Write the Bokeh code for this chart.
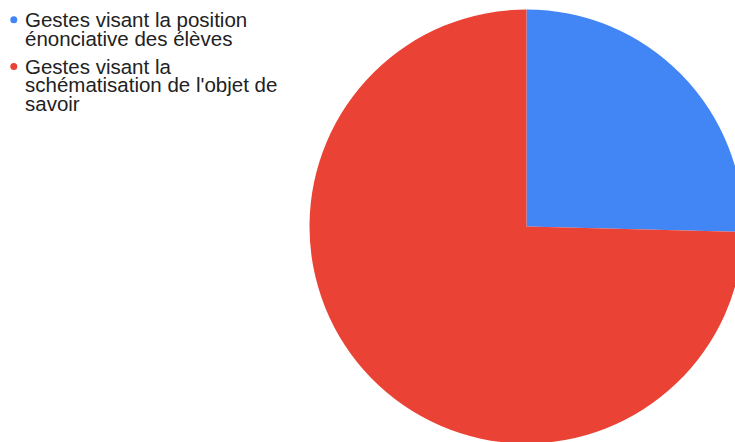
import numpy as np
from bokeh.plotting import figure
from bokeh.models import Range1d, ColumnDataSource
from bokeh.core.properties import value
from bokeh.embed import file_html
from bokeh.resources import INLINE

# Data
categories = ["Gestes visant la position énonciative des élèves",
              "Gestes visant la schématisation de l'objet de savoir"]
shares = [25.4, 74.6]
colors = ["#4285F4", "#EA4335"]
legend_lines = [["Gestes visant la position", "énonciative des élèves"],
                ["Gestes visant la", "schématisation de l'objet de", "savoir"]]

W, H = 735, 442
p = figure(width=W, height=H, output_backend="svg", toolbar_location=None,
           x_range=Range1d(0, W), y_range=Range1d(0, H),
           x_axis_type=None, y_axis_type=None, min_border=0)
p.outline_line_color = None
p.grid.visible = False

# pie
cx, cy_top, r = 526, 226, 217
cy = H - cy_top
vals = np.array(shares, dtype=float)
frac = vals / vals.sum()
ends = np.cumsum(frac) * 2 * np.pi
starts = np.concatenate([[0], ends[:-1]])
src = ColumnDataSource(dict(
    start=np.pi / 2 - starts,
    end=np.pi / 2 - ends,
    color=colors,
    cat=categories,
))
p.wedge(x=cx, y=cy, radius=r, start_angle="start", end_angle="end",
        direction="clock", fill_color="color", line_color=None, source=src)

# legend
text_x = 24.5
dot_x = 13.3
first_baseline = 26.3
line_step = 18.7
entry_gap = 9.3
text_shift = 7.5  # renderer places alphabetic baseline lower; compensate
y = first_baseline
for lines, col in zip(legend_lines, colors):
    p.scatter(x=[dot_x], y=[H - (y - 7)], size=7, color=col, line_color=None)
    for ln in lines:
        p.text(x=[text_x], y=[H - (y - text_shift)], text=[ln],
               text_font=value("Liberation Sans"),
               text_font_size="20.5px", text_color="#222222",
               text_baseline="alphabetic", text_align="left")
        y += line_step
    y += entry_gap

open("out.html", "w").write(file_html(p, INLINE))
